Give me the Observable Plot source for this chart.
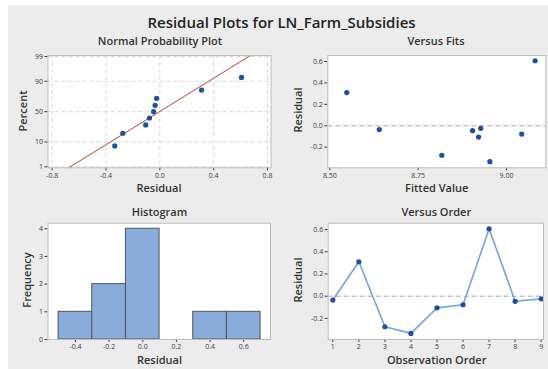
<!DOCTYPE html>
<html><head><meta charset="utf-8">
<script src="https://cdn.jsdelivr.net/npm/d3@7"></script>
<script src="https://cdn.jsdelivr.net/npm/@observablehq/plot@0.6"></script>
<style>
body{margin:0;background:#fff;}
#wrap{position:relative;width:548px;height:369px;overflow:hidden;font-family:"Open Sans",sans-serif;}
#bg{position:absolute;left:8px;top:5px;width:540px;height:364px;background:#ececec;}
.lbl{position:absolute;white-space:nowrap;color:#333;font-weight:600;transform:translate(-50%,-50%);line-height:1;}
.rot{transform:translate(-50%,-50%) rotate(-90deg);}
</style></head><body><div id="wrap"><div id="bg"></div></div>
<script>
// ---- data ----
const observation = [1, 2, 3, 4, 5, 6, 7, 8, 9];
const residuals = [-0.035, 0.31, -0.275, -0.335, -0.105, -0.077, 0.607, -0.046, -0.024];
const fittedValues = [8.640, 8.548, 8.817, 8.953, 8.921, 9.043, 9.081, 8.904, 8.927];
const sortedResiduals = [-0.335, -0.275, -0.105, -0.077, -0.046, -0.035, -0.024, 0.31, 0.607];
const probPercent = [7.4, 18.1, 28.7, 39.4, 50.0, 60.6, 71.3, 81.9, 92.6];
const fitLineResidual = [-0.677, 0.672];
const fitLinePercent = [0.9, 99.1];
const percentTicks = [1, 10, 50, 90, 99];
const nppXTicks = [-0.8, -0.4, 0.0, 0.4, 0.8];
const fitsXTicks = [8.50, 8.75, 9.00];
const residTicks = [-0.2, 0.0, 0.2, 0.4, 0.6];
const histBinStart = [-0.5, -0.3, -0.1, 0.1, 0.3, 0.5];
const histBinEnd = [-0.3, -0.1, 0.1, 0.3, 0.5, 0.7];
const histCounts = [1, 2, 4, 0, 1, 1];
const histXTicks = [-0.4, -0.2, 0.0, 0.2, 0.4, 0.6];
const freqTicks = [0, 1, 2, 3, 4];

// inverse normal CDF (probability-scale transform)
function probit(p){
  const a=[-3.969683028665376e+01,2.209460984245205e+02,-2.759285104469687e+02,1.383577518672690e+02,-3.066479806614716e+01,2.506628277459239e+00];
  const b=[-5.447609879822406e+01,1.615858368580409e+02,-1.556989798598866e+02,6.680131188771972e+01,-1.328068155288572e+01];
  const c=[-7.784894002430293e-03,-3.223964580411365e-01,-2.400758277161838e+00,-2.549732539343734e+00,4.374664141464968e+00,2.938163982698783e+00];
  const d=[7.784695709041462e-03,3.224671290700398e-01,2.445134137142996e+00,3.754408661907416e+00];
  const pl=0.02425, ph=1-pl; let q,r;
  if(p<pl){q=Math.sqrt(-2*Math.log(p));return (((((c[0]*q+c[1])*q+c[2])*q+c[3])*q+c[4])*q+c[5])/((((d[0]*q+d[1])*q+d[2])*q+d[3])*q+1);}
  if(p<=ph){q=p-0.5;r=q*q;return (((((a[0]*r+a[1])*r+a[2])*r+a[3])*r+a[4])*r+a[5])*q/(((((b[0]*r+b[1])*r+b[2])*r+b[3])*r+b[4])*r+1);}
  q=Math.sqrt(-2*Math.log(1-p));return -(((((c[0]*q+c[1])*q+c[2])*q+c[3])*q+c[4])*q+c[5])/((((d[0]*q+d[1])*q+d[2])*q+d[3])*q+1);
}
const z = pct => probit(pct / 100);

const W = 548, H = 369;
const wrap = document.getElementById("wrap");
const dotColor = "#1f4fa0";
const fmt1 = d => d.toFixed(1);

function axes(xt, xf, yt, yf){
  const common = {tickSize: 3, tickPadding: 2, fontSize: 7, color: "#3a3a3a", label: null};
  return [
    Plot.axisX(xt, {...common, anchor: "bottom", tickFormat: xf}),
    Plot.axisY(yt, {...common, anchor: "left", tickFormat: yf})
  ];
}

function panel(frame, xDomain, yDomain, marks){
  const [L, T, R, B] = frame;
  const svg = Plot.plot({
    width: W, height: H,
    marginLeft: L, marginTop: T, marginRight: W - R, marginBottom: H - B,
    x: {domain: xDomain, axis: null},
    y: {domain: yDomain, axis: null},
    style: {background: "transparent", position: "absolute", left: "0px", top: "0px", overflow: "visible", fontFamily: "'Open Sans', sans-serif"},
    marks: [
      Plot.frame({fill: "white", stroke: null}),
      ...marks,
      Plot.frame({stroke: "#bcbcbc", fill: "none"})
    ]
  });
  wrap.appendChild(svg);
}

// Normal probability plot
const zTicks = percentTicks.map(z);
const pctLabel = new Map(zTicks.map((t, i) => [t, String(percentTicks[i])]));
panel([47.5, 55, 270.5, 167.3], [-0.831, 0.826], [-2.37, 2.37], [
  Plot.ruleX(nppXTicks, {x: d => d, stroke: "#d6d6d6", strokeDasharray: "4,3"}),
  Plot.ruleY(zTicks, {y: d => d, stroke: "#d6d6d6", strokeDasharray: "4,3"}),
  Plot.line(fitLineResidual, {x: fitLineResidual, y: fitLinePercent.map(z), stroke: "#c0423c", strokeWidth: 1}),
  Plot.dot(sortedResiduals, {x: sortedResiduals, y: probPercent.map(z), r: 2.6, fill: dotColor, stroke: null}),
  ...axes(nppXTicks, fmt1, zTicks, d => pctLabel.get(d))
]);

// Versus fits
panel([327.3, 55, 545.3, 167.3], [8.4943, 9.1112], [-0.392, 0.656], [
  Plot.ruleY([0], {y: d => d, stroke: "#c4c4c4", strokeWidth: 1.5, strokeDasharray: "5,3"}),
  Plot.dot(residuals, {x: fittedValues, y: residuals, r: 2.6, fill: dotColor, stroke: null}),
  ...axes(fitsXTicks, d => d.toFixed(2), residTicks, fmt1)
]);

// Histogram
panel([47.5, 222.7, 270, 339], [-0.563, 0.759], [0, 4.2], [
  Plot.rectY(histCounts.map((c, i) => i).filter(i => histCounts[i] > 0), {
    x1: i => histBinStart[i], x2: i => histBinEnd[i], y1: 0, y2: i => histCounts[i],
    fill: "#8aacdc", stroke: "#555", strokeWidth: 1, inset: 0
  }),
  ...axes(histXTicks, fmt1, freqTicks, d => String(d))
]);

// Versus order
panel([327.7, 222.7, 543, 339], [0.823, 9.089], [-0.39, 0.657], [
  Plot.ruleY([0], {y: d => d, stroke: "#c4c4c4", strokeWidth: 1.5, strokeDasharray: "5,3"}),
  Plot.line(residuals, {x: observation, y: residuals, stroke: "#74a3e0", strokeWidth: 1.6}),
  Plot.dot(residuals, {x: observation, y: residuals, r: 2.6, fill: dotColor, stroke: null}),
  ...axes(observation, d => String(d), residTicks, fmt1)
]);

// Text labels
const labels = [
  ["Residual Plots for LN_Farm_Subsidies", 281.5, 22, 15, false, "#222"],
  ["Normal Probability Plot", 160, 40, 11, false],
  ["Versus Fits", 436, 40, 11, false],
  ["Histogram", 159.5, 211, 11, false],
  ["Versus Order", 436.3, 211, 11, false],
  ["Percent", 21.5, 111, 11, true],
  ["Residual", 159, 186.5, 11, false],
  ["Residual", 296.7, 110, 11, true],
  ["Fitted Value", 436.7, 186.5, 11, false],
  ["Frequency", 26, 280, 11, true],
  ["Residual", 159.5, 359, 11, false],
  ["Residual", 296.7, 280, 11, true],
  ["Observation Order", 436.7, 359.3, 11, false]
];
for (const [t, x, y, fs, rot, col] of labels){
  const el = document.createElement("div");
  el.className = "lbl" + (rot ? " rot" : "");
  el.textContent = t;
  el.style.left = x + "px"; el.style.top = y + "px"; el.style.fontSize = fs + "px";
  if (col) el.style.color = col;
  wrap.appendChild(el);
}
</script></body></html>
